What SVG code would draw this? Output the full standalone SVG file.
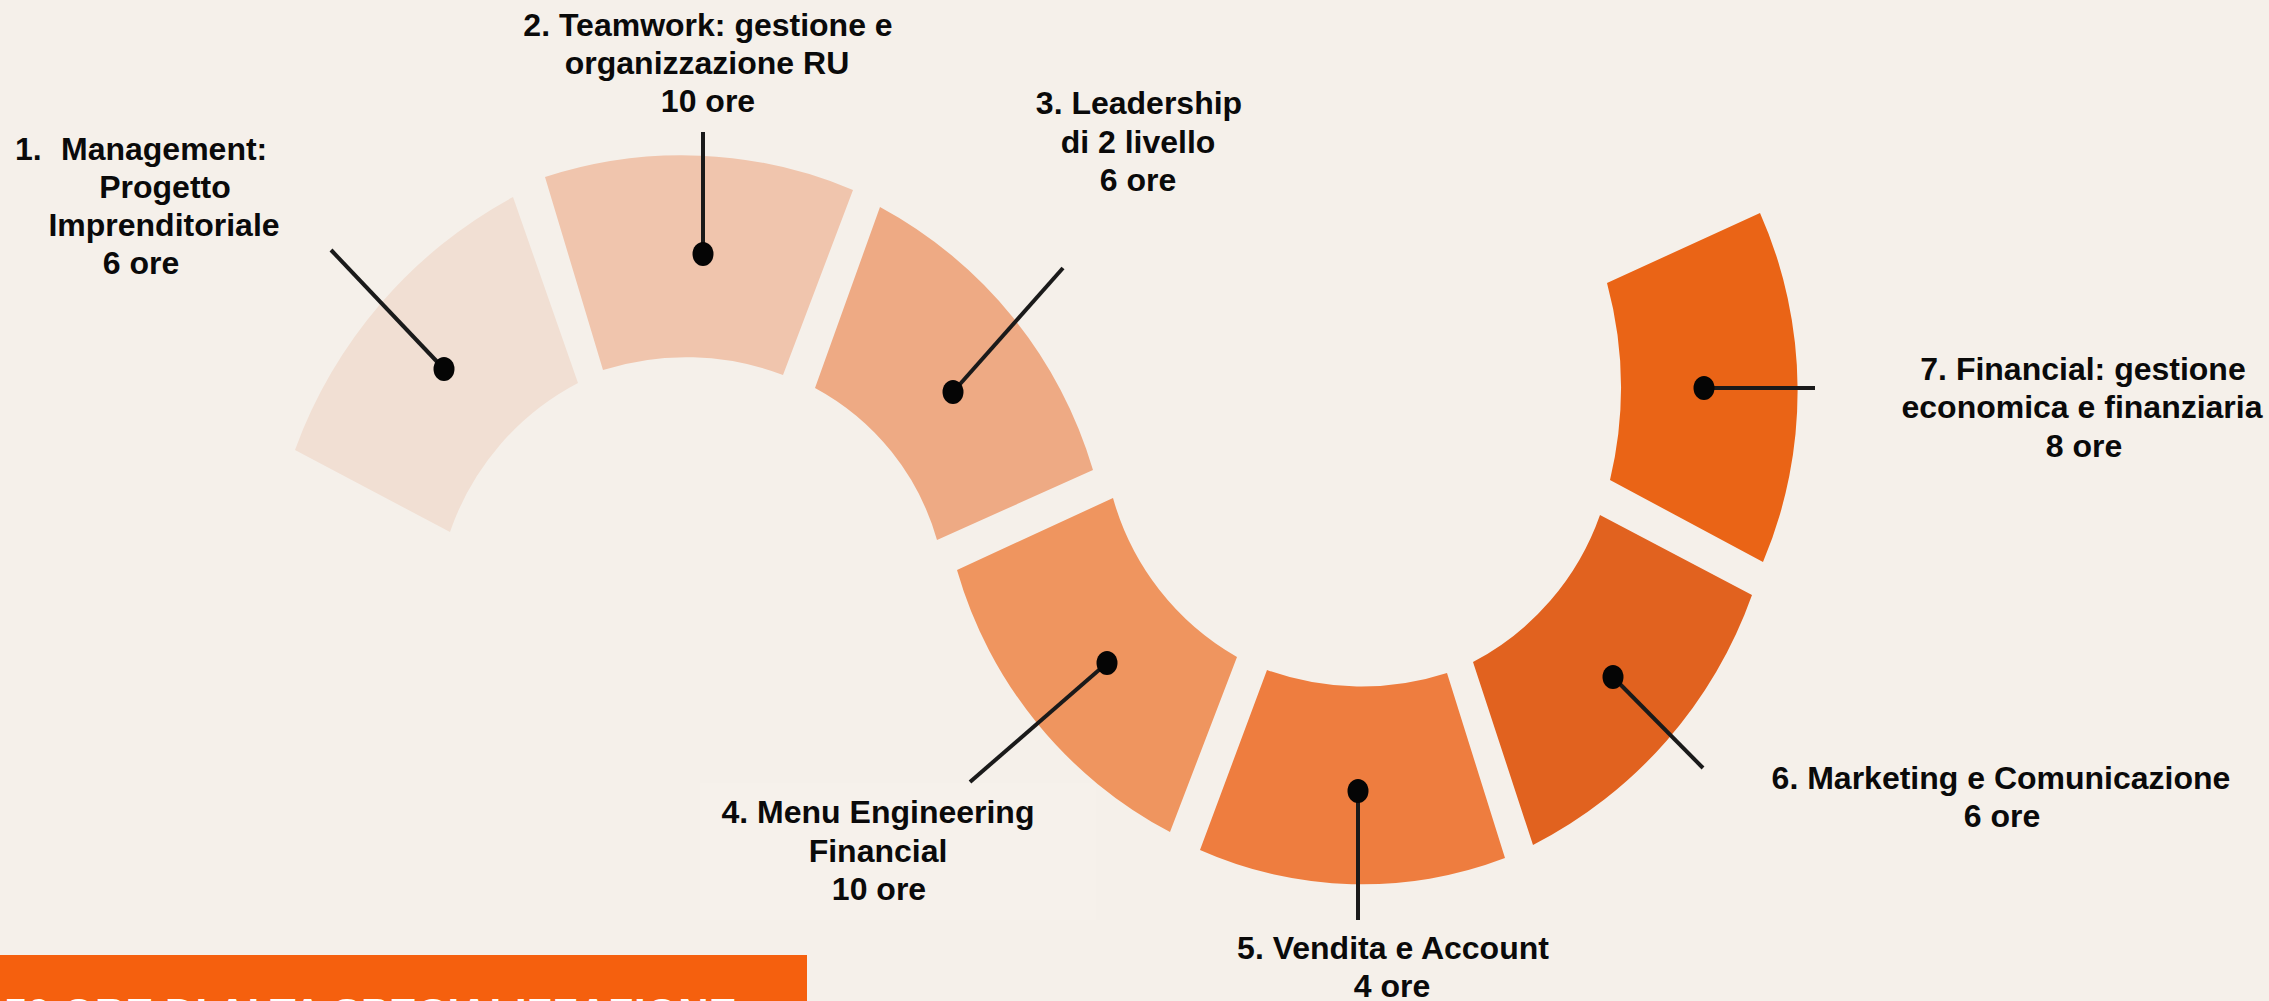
<svg xmlns="http://www.w3.org/2000/svg" width="2269" height="1001" viewBox="0 0 2269 1001">
<style>
  .lbl { font-family: "Liberation Sans", Arial, sans-serif; font-weight: bold; font-size: 32px; fill: #0a0a0a; }
  .mid { text-anchor: middle; }
  .conn { stroke: #1a1a1a; stroke-width: 4; fill: none; }
  .dot { fill: #050505; }
</style>
<rect x="0" y="0" width="2269" height="1001" fill="#f5f0ea"/>

<g id="seg1"><path d="M 295,450 A 470,470 0 0 1 513,197 L 578,383 A 265,265 0 0 0 450,532 Z" fill="#f1dfd3"/></g>
<g id="seg2"><path d="M 545,177 A 440,440 0 0 1 853,190 L 783,375 A 275,275 0 0 0 603,370 Z" fill="#f0c5ad"/></g>
<g id="seg3"><path d="M 880,207 A 440,440 0 0 1 1093,470 L 937,540 A 250,250 0 0 0 815,388 Z" fill="#eeaa84"/></g>
<g id="seg4"><path d="M 1170,832 A 430,430 0 0 1 957,570 L 1113,498 A 265,265 0 0 0 1237,657 Z" fill="#ef955f"/></g>
<g id="seg5"><path d="M 1505,858 A 400,400 0 0 1 1200,850 L 1267,670 A 278,278 0 0 0 1447,673 Z" fill="#ee7d3f"/></g>
<g id="seg6"><path d="M 1752,595 A 450,450 0 0 1 1533,845 L 1473,662 A 265,265 0 0 0 1600,515 Z" fill="#e1621f"/></g>
<g id="seg7"><path d="M 1760,213 A 440,440 0 0 1 1763,562 L 1610,480 A 400,400 0 0 0 1607,283 Z" fill="#ea6416"/></g>

<rect x="700" y="783" width="396" height="137" fill="#f6f1eb"/>

<g id="connectors">
  <line class="conn" x1="331" y1="250" x2="444" y2="369"/>
  <line class="conn" x1="703" y1="132" x2="703" y2="254"/>
  <line class="conn" x1="1063" y1="268" x2="953" y2="392"/>
  <line class="conn" x1="970" y1="782" x2="1107" y2="663"/>
  <line class="conn" x1="1358" y1="791" x2="1358" y2="920"/>
  <line class="conn" x1="1613" y1="677" x2="1703" y2="768"/>
  <line class="conn" x1="1704" y1="388" x2="1815" y2="388"/>
  <ellipse class="dot" cx="444" cy="369" rx="10.5" ry="12"/>
  <ellipse class="dot" cx="703" cy="254" rx="10.5" ry="12"/>
  <ellipse class="dot" cx="953" cy="392" rx="10.5" ry="12"/>
  <ellipse class="dot" cx="1107" cy="663" rx="10.5" ry="12"/>
  <ellipse class="dot" cx="1358" cy="791" rx="10.5" ry="12"/>
  <ellipse class="dot" cx="1613" cy="677" rx="10.5" ry="12"/>
  <ellipse class="dot" cx="1704" cy="388" rx="10.5" ry="12"/>
</g>

<g id="label1">
  <text class="lbl" x="15" y="160">1.</text>
  <text class="lbl" x="61" y="160">Management:</text>
  <text class="lbl mid" x="165" y="198">Progetto</text>
  <text class="lbl mid" x="164" y="236">Imprenditoriale</text>
  <text class="lbl mid" x="141" y="274">6 ore</text>
</g>
<g id="label2">
  <text class="lbl mid" x="708" y="36">2. Teamwork: gestione e</text>
  <text class="lbl mid" x="707" y="74">organizzazione RU</text>
  <text class="lbl mid" x="708" y="112">10 ore</text>
</g>
<g id="label3">
  <text class="lbl mid" x="1139" y="114">3. Leadership</text>
  <text class="lbl mid" x="1138" y="153">di 2 livello</text>
  <text class="lbl mid" x="1138" y="191">6 ore</text>
</g>
<g id="label4">
  <text class="lbl mid" x="878" y="823">4. Menu Engineering</text>
  <text class="lbl mid" x="878" y="862">Financial</text>
  <text class="lbl mid" x="879" y="900">10 ore</text>
</g>
<g id="label5">
  <text class="lbl mid" x="1393" y="959">5. Vendita e Account</text>
  <text class="lbl mid" x="1392" y="997">4 ore</text>
</g>
<g id="label6">
  <text class="lbl mid" x="2001" y="789">6. Marketing e Comunicazione</text>
  <text class="lbl mid" x="2002" y="827">6 ore</text>
</g>
<g id="label7">
  <text class="lbl mid" x="2083" y="380">7. Financial: gestione</text>
  <text class="lbl mid" x="2082" y="418">economica e finanziaria</text>
  <text class="lbl mid" x="2084" y="457">8 ore</text>
</g>

<g id="banner">
  <rect x="0" y="955" width="807" height="46" fill="#f5600e"/>
  <text x="4" y="1028" font-family="Liberation Sans, Arial, sans-serif" font-weight="bold" font-size="42" fill="#ffffff">50 ORE DI ALTA SPECIALIZZAZIONE</text>
</g>
</svg>
